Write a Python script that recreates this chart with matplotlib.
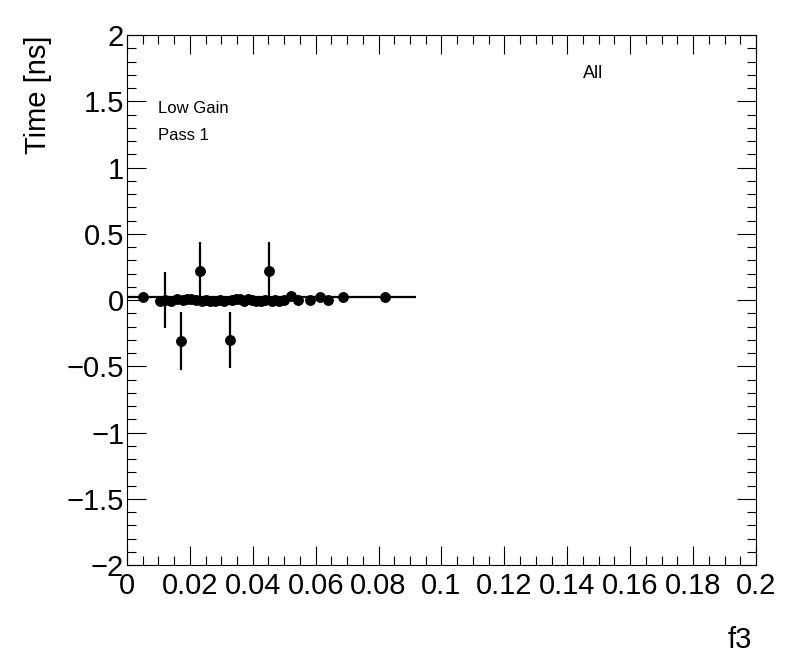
import numpy as np
import matplotlib.pyplot as plt
from matplotlib.ticker import MultipleLocator

plt.rcParams['font.family'] = ['Liberation Sans', 'DejaVu Sans']

# f3 values and time offsets (ns)
f3 = [0.0050, 0.0105, 0.0121, 0.0140, 0.0158, 0.0172, 0.0178, 0.0192, 0.0205,
      0.0218, 0.0232, 0.0240, 0.0252, 0.0265, 0.0280, 0.0295, 0.0310, 0.0329,
      0.0335, 0.0348, 0.0360, 0.0372, 0.0385, 0.0398, 0.0410, 0.0425, 0.0440,
      0.0451, 0.0460, 0.0472, 0.0485, 0.0498, 0.0522, 0.0545, 0.0582, 0.0615,
      0.0638, 0.0688, 0.0821]
time = [0.02, -0.01, 0.00, -0.01, 0.01, -0.31, 0.00, 0.01, 0.01,
        0.00, 0.22, -0.01, 0.00, -0.01, -0.01, 0.00, -0.01, -0.30,
        0.00, 0.01, 0.01, -0.01, 0.01, 0.00, -0.01, -0.01, 0.00,
        0.22, -0.01, 0.00, -0.01, 0.00, 0.03, 0.00, 0.00, 0.02,
        0.00, 0.02, 0.02]
time_err = [0.01, 0.01, 0.21, 0.01, 0.01, 0.22, 0.01, 0.01, 0.01,
            0.01, 0.22, 0.01, 0.01, 0.01, 0.01, 0.01, 0.01, 0.21,
            0.01, 0.01, 0.01, 0.01, 0.01, 0.01, 0.01, 0.01, 0.01,
            0.22, 0.01, 0.01, 0.01, 0.01, 0.01, 0.01, 0.01, 0.01,
            0.01, 0.01, 0.01]

# overall point: mean with its f3 spread
all_f3 = 0.046
all_f3_err = 0.046
all_time = 0.02

fig = plt.figure(figsize=(7.96, 6.72), dpi=100)
ax = fig.add_axes([0.1595, 0.1592, 0.7902, 0.7887])

ax.errorbar([all_f3], [all_time], xerr=[all_f3_err], fmt='none',
            ecolor='black', elinewidth=1.6, capsize=0)
ax.errorbar(f3, time, yerr=time_err, fmt='o', color='black', ms=6.8,
            elinewidth=1.6, capsize=0)

ax.set_xlim(0, 0.2)
ax.set_ylim(-2, 2)
ax.xaxis.set_minor_locator(MultipleLocator(0.005))
ax.yaxis.set_minor_locator(MultipleLocator(0.1))
ax.set_xticks(np.arange(0, 0.2001, 0.02))
ax.set_xticklabels(['0', '0.02', '0.04', '0.06', '0.08', '0.1', '0.12',
                    '0.14', '0.16', '0.18', '0.2'])
ax.set_yticks(np.arange(-2, 2.001, 0.5))
ax.set_yticklabels(['\u22122', '\u22121.5', '\u22121', '\u22120.5', '0',
                    '0.5', '1', '1.5', '2'])

ax.tick_params(which='both', direction='in', top=True, right=True,
               labelsize=21, width=0.8)
ax.tick_params(which='major', length=13.5)
ax.tick_params(which='minor', length=6.5)
ax.tick_params(axis='x', pad=5)
ax.tick_params(axis='y', pad=2)
for s in ax.spines.values():
    s.set_linewidth(0.8)

fig.text(0.048, 1 - 35 / 672, 'Time [ns]', rotation=90, ha='center',
         va='top', fontsize=21)
fig.text(0.93, 1 - 640 / 672, 'f3', ha='center', va='center', fontsize=21)

ax.text(0.05, 0.862, 'Low Gain', transform=ax.transAxes, fontsize=12,
        va='center')
ax.text(0.05, 0.811, 'Pass 1', transform=ax.transAxes, fontsize=12,
        va='center')
ax.text(0.725, 0.928, 'All', transform=ax.transAxes, fontsize=13,
        va='center')

fig.savefig('out.png', dpi=100)
